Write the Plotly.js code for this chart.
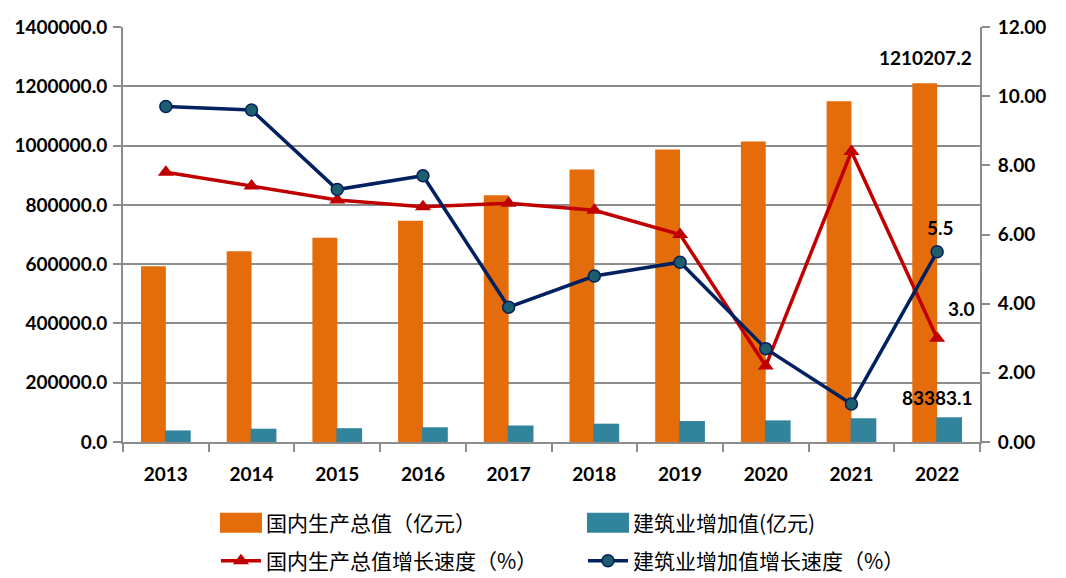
<!DOCTYPE html>
<html>
<head>
<meta charset="utf-8">
<script src="https://cdn.plot.ly/plotly-3.0.1.min.js"></script>
<style>html,body{margin:0;padding:0;background:#fff;}#chart{width:1066px;height:578px;}</style>
</head>
<body>
<div id="chart"></div>
<script>
var years = ['2013','2014','2015','2016','2017','2018','2019','2020','2021','2022'];
var gdp = [592963.2, 643563.1, 688858.2, 746395.1, 832035.9, 919281.1, 986515.2, 1013567.0, 1149237.0, 1210207.2];
var constructionValue = [38995.0, 44880.5, 46626.7, 49702.9, 55689.0, 61808.0, 70904.3, 72995.7, 80138.5, 83383.1];
var gdpGrowth = [7.8, 7.4, 7.0, 6.8, 6.9, 6.7, 6.0, 2.2, 8.4, 3.0];
var constructionGrowth = [9.7, 9.6, 7.3, 7.7, 3.9, 4.8, 5.2, 2.7, 1.1, 5.5];
var names = ['国内生产总值（亿元）', '建筑业增加值(亿元)', '国内生产总值增长速度（%）', '建筑业增加值增长速度（%）'];

var tickFont = {family: 'Lato, "Liberation Sans", sans-serif', size: 19, color: '#000', weight: 'bold'};
var labelFont = {family: 'Lato, "Liberation Sans", sans-serif', size: 19, color: '#000', weight: 'bold'};
var legendFont = {family: '"Noto Sans CJK SC", sans-serif', size: 21, color: '#000'};
var last = years.length - 1;

var traces = [
  {type: 'bar', x: years, y: gdp, name: names[0], marker: {color: '#E46C0A'}, width: 0.29, offset: -0.29, legend: 'legend'},
  {type: 'bar', x: years, y: constructionValue, name: names[1], marker: {color: '#31849B'}, width: 0.30, offset: -0.01, legend: 'legend'},
  {type: 'scatter', mode: 'lines+markers', x: years, y: gdpGrowth, name: names[2], yaxis: 'y2', legend: 'legend2',
   line: {color: '#C00000', width: 3.5}, marker: {symbol: 'triangle-up', size: 14, color: '#C00000'}},
  {type: 'scatter', mode: 'lines+markers', x: years, y: constructionGrowth, name: names[3], yaxis: 'y2', legend: 'legend2',
   line: {color: '#002060', width: 3.5}, marker: {symbol: 'circle', size: 12, color: '#1D5E6E', line: {color: '#002060', width: 1.5}}}
];

var axisCommon = {showline: true, linecolor: '#8c8c8c', linewidth: 2, ticks: 'outside', ticklen: 8,
                  tickcolor: '#8c8c8c', tickwidth: 2, zeroline: false};

var legendCommon = {orientation: 'h', xref: 'container', yref: 'container', x: 0.2026, xanchor: 'left', yanchor: 'middle',
                    entrywidth: 312, entrywidthmode: 'pixels', font: legendFont, itemwidth: 40, traceorder: 'normal',
                    bgcolor: 'rgba(0,0,0,0)', borderwidth: 0};

var layout = {
  width: 1066, height: 578,
  margin: {l: 123, r: 86, t: 27, b: 136},
  paper_bgcolor: '#fff', plot_bgcolor: '#fff',
  showlegend: true,
  barmode: 'overlay',
  xaxis: Object.assign({type: 'category', range: [-0.5, 9.5], autorange: false, tickfont: tickFont, tickangle: 0,
          tickson: 'boundaries', ticklabelstandoff: 14, showgrid: false}, axisCommon),
  yaxis: Object.assign({range: [0, 1400000], autorange: false, dtick: 200000, tickformat: '.1f', tickfont: tickFont,
          ticklabelstandoff: 2, gridcolor: '#8c8c8c', gridwidth: 2}, axisCommon),
  yaxis2: Object.assign({range: [0, 12], autorange: false, dtick: 2, tickformat: '.2f', tickfont: tickFont, overlaying: 'y', side: 'right',
          ticklabelstandoff: 4, showgrid: false}, axisCommon),
  legend: Object.assign({y: 1 - 523 / 578}, legendCommon),
  legend2: Object.assign({y: 1 - 561 / 578}, legendCommon),
  annotations: [
    {x: last, y: gdp[last], yref: 'y', text: gdp[last].toFixed(1), showarrow: false, yanchor: 'middle', yshift: 26, xshift: -12, font: labelFont},
    {x: last, y: constructionGrowth[last], yref: 'y2', text: constructionGrowth[last].toFixed(1), showarrow: false, yanchor: 'middle', yshift: 24, xshift: 3, font: labelFont},
    {x: last, y: gdpGrowth[last], yref: 'y2', text: gdpGrowth[last].toFixed(1), showarrow: false, yanchor: 'middle', yshift: 30, xshift: 24, font: labelFont},
    {x: last, y: constructionValue[last], yref: 'y', text: constructionValue[last].toFixed(1), showarrow: false, yanchor: 'middle', yshift: 20, xshift: 0, font: labelFont}
  ]
};

function widenSwatches(gd) {
  // enlarge legend swatches to resemble wide blocks / long line samples
  gd.querySelectorAll('g.legendpoints path').forEach(function (p) {
    var d = p.getAttribute('d') || '';
    if (d.indexOf('M6,6H-6V-6H6Z') === 0) p.setAttribute('d', 'M21,10H-21V-10H21Z');
  });
  gd.querySelectorAll('g.legendlines path').forEach(function (p) {
    var d = p.getAttribute('d') || '';
    if (/^M5,0h30/.test(d)) p.setAttribute('d', 'M-1,0h42');
  });
}

var gdEl = document.getElementById('chart');
Plotly.newPlot(gdEl, traces, layout, {displayModeBar: false, staticPlot: true}).then(function (gd) {
  widenSwatches(gd);
  gd.on('plotly_afterplot', function () { widenSwatches(gd); });
  setTimeout(function () { widenSwatches(gd); }, 50);
  setTimeout(function () { widenSwatches(gd); }, 300);
});
</script>
</body>
</html>
